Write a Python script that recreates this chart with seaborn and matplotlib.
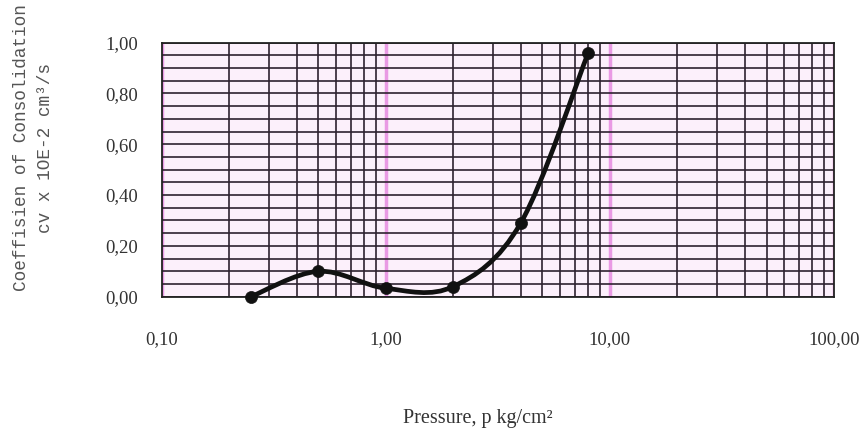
import numpy as np
import matplotlib
matplotlib.use("Agg")
import matplotlib.pyplot as plt
from matplotlib.path import Path
from matplotlib.patches import PathPatch
from matplotlib.ticker import FixedLocator, LogLocator, MultipleLocator
import seaborn as sns
import pandas as pd

# ---- data ----
pressure = [0.25, 0.5, 1.0, 2.0, 4.0, 8.0]          # kg/cm2
cv = [0.00, 0.10, 0.033, 0.04, 0.29, 0.96]          # x 1E-2
x_ticks = [0.1, 1.0, 10.0, 100.0]
x_tick_labels = ["0,10", "1,00", "10,00", "100,00"]
y_ticks = [0.0, 0.2, 0.4, 0.6, 0.8, 1.0]
y_tick_labels = ["0,00", "0,20", "0,40", "0,60", "0,80", "1,00"]

df = pd.DataFrame({"p": pressure, "cv": cv})

sns.set_style("white")
plt.rcParams["font.family"] = ["Liberation Serif", "DejaVu Serif"]

fig = plt.figure(figsize=(8.67, 4.46), dpi=100)
ax = fig.add_axes([0.1865, 0.3348, 0.962 - 0.1865, 0.9043 - 0.3348])
ax.set_facecolor("#fcf0fb")

ax.set_xscale("log")
ax.set_xlim(0.1, 100)
ax.set_ylim(0, 1.0)

# grid
ax.xaxis.set_major_locator(FixedLocator(x_ticks))
ax.xaxis.set_minor_locator(LogLocator(base=10, subs=np.arange(2, 10)))
ax.yaxis.set_major_locator(FixedLocator(y_ticks))
ax.yaxis.set_minor_locator(MultipleLocator(0.05))
ax.set_axisbelow(True)
ax.grid(which="minor", axis="x", color="#2e2230", lw=1.2)
ax.grid(which="major", axis="x", color="#e99ae4", lw=2.5)
ax.grid(which="both", axis="y", color="#2e2230", lw=1.2)

ax.set_xticks(x_ticks)
ax.set_xticklabels(x_tick_labels)
ax.set_yticks(y_ticks)
ax.set_yticklabels(y_tick_labels)
ax.tick_params(axis="x", which="major", direction="out", length=7, width=1.2,
               color="#222222", pad=18, labelsize=13.5, labelcolor="#333333")
ax.tick_params(axis="y", which="major", direction="out", length=5, width=1.2,
               color="#222222", pad=12, labelsize=13.5, labelcolor="#333333")
ax.tick_params(which="minor", length=0)
for s in ax.spines.values():
    s.set_color("#222222")
    s.set_linewidth(1.3)

# smoothed line (Excel-like Catmull-Rom Bezier in log-x space)
lx = np.log10(np.array(pressure))
yy = np.array(cv)
pts = np.column_stack([lx, yy])
n = len(pts)
verts = [pts[0]]
codes = [Path.MOVETO]
for i in range(n - 1):
    p_prev = pts[i - 1] if i > 0 else pts[i]
    p_next2 = pts[i + 2] if i + 2 < n else pts[i + 1]
    c1 = pts[i] + (pts[i + 1] - p_prev) / 6.0
    c2 = pts[i + 1] - (p_next2 - pts[i]) / 6.0
    verts += [c1, c2, pts[i + 1]]
    codes += [Path.CURVE4] * 3
verts = np.array(verts)
verts[:, 0] = 10 ** verts[:, 0]
patch = PathPatch(Path(verts, codes), facecolor="none", edgecolor="#111111",
                  lw=3.4, capstyle="round", joinstyle="round", zorder=3)
ax.add_patch(patch)

sns.scatterplot(data=df, x="p", y="cv", ax=ax, color="#111111", s=75,
                edgecolor="#111111", linewidth=0.5, zorder=4, clip_on=False)
ax.set_xlabel("")
ax.set_ylabel("")

# axis titles
fig.text(478 / 867, 1 - 418 / 446, "Pressure, p kg/cm²", ha="center", va="center",
         fontsize=14.5, color="#333333", family=["Liberation Serif", "DejaVu Serif"])
fig.text(22 / 867, 1 - 148 / 446, "Coeffisien of Consolidation", rotation=90,
         ha="center", va="center", fontsize=12.8, color="#555555",
         family=["Liberation Mono", "DejaVu Sans Mono"])
fig.text(46 / 867, 1 - 148 / 446, "cv x 1OE-2 cm³/s", rotation=90,
         ha="center", va="center", fontsize=12.8, color="#555555",
         family=["Liberation Mono", "DejaVu Sans Mono"])

fig.savefig("out.png", dpi=100, facecolor="white")
